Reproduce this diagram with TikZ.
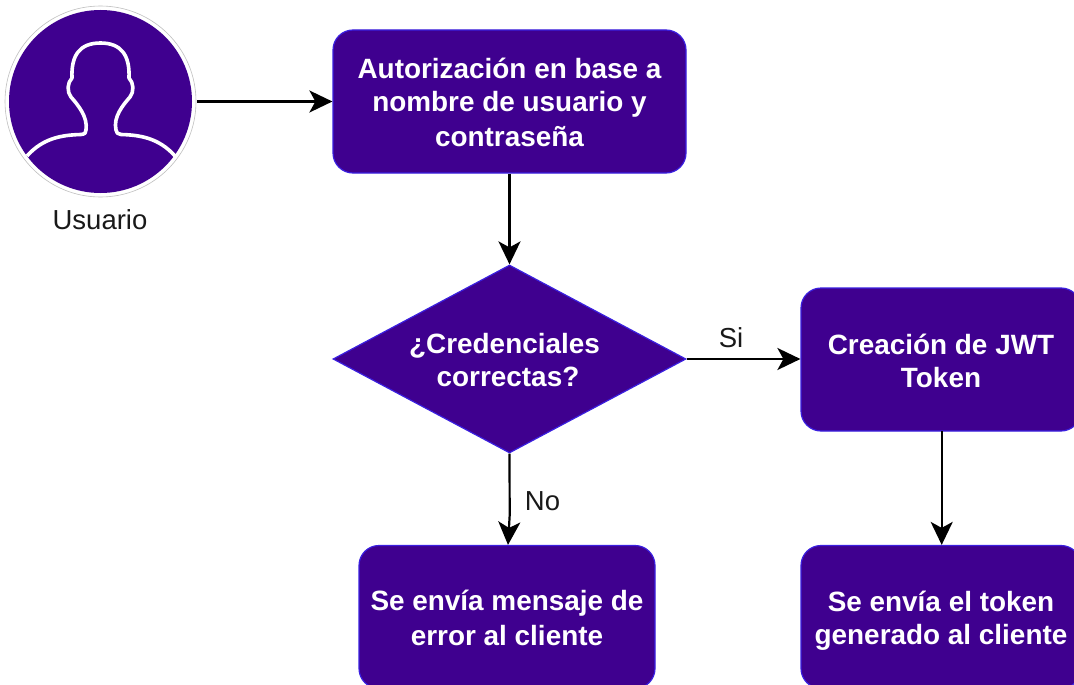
\documentclass[tikz,border=0pt]{standalone}
\usepackage{fontspec}
\setmainfont{Liberation Sans}
\usetikzlibrary{arrows.meta,shapes.geometric}
\definecolor{boxfill}{HTML}{3F008F}
\definecolor{boxline}{HTML}{3A1FE0}
\newcommand{\ls}{\rule[-5.5pt]{0pt}{33pt}}
\tikzset{
  x=1pt,y=-1pt,
  flowbox/.style={draw=boxline,line width=1.2pt,fill=boxfill,rounded corners=20pt},
  decision/.style={diamond,aspect=1.877,draw=boxline,line width=1.2pt,fill=boxfill,inner sep=0pt},
  boxtext/.style={text=white,align=center,font=\fontsize{27.9}{33}\selectfont\bfseries,inner sep=0pt},
  flowarrow/.style={line width=2.2pt,black,-{Stealth[length=23pt,width=22pt,inset=6pt]}},
  plainlabel/.style={font=\fontsize{27.5}{32}\selectfont,text=black!90,inner sep=0pt},
  personline/.style={draw=white,line width=3.6pt,line join=round,line cap=butt}
}
\begin{document}
\begin{tikzpicture}
\clip (0,0) rectangle (1074,685);
\fill[white] (0,0) rectangle (1074,685);
% user icon
\node[circle,draw=black!25,line width=.6pt,minimum size=191pt,inner sep=0pt] (halo) at (100.5,101.5) {};
\node[circle,fill=boxfill,minimum size=183pt,inner sep=0pt] (user) at (100.5,101.5) {};
\draw[personline] (27,156)
  .. controls (43,138) and (62,135) .. (81,134.5)
  .. controls (85,134) and (86,133) .. (86,130)
  .. controls (88,117) and (78,105) .. (71,97)
  .. controls (67,92) and (67,83) .. (72,78)
  .. controls (71,55) and (80,43) .. (100.5,43)
  .. controls (121,43) and (130,55) .. (129,78)
  .. controls (134,83) and (134,92) .. (130,97)
  .. controls (123,105) and (113,117) .. (116,130)
  .. controls (116,133) and (118,134) .. (121,134.5)
  .. controls (140,135) and (159,138) .. (175,156);
\node[plainlabel] (userlabel) at (100,220) {Usuario};
% boxes
\node[flowbox,boxtext,minimum width=353pt,minimum height=143pt] (auth) at (509.5,101.5) {\ls Autorización en base a\\\ls nombre de usuario y\\\ls contraseña};
\node[decision,boxtext,minimum width=353pt,minimum height=188pt] (check) at (509.5,359) {\ls ¿Credenciales\hspace*{10pt}\\\ls correctas?\hspace*{3pt}};
\node[flowbox,boxtext,minimum width=280pt,minimum height=143pt] (jwt) at (941,359.5) {\ls Creación de JWT\\\ls Token};
\node[flowbox,boxtext,minimum width=296pt,minimum height=143pt] (err) at (507,617) {\ls Se envía mensaje de\\\ls error al cliente};
\node[flowbox,boxtext,minimum width=280pt,minimum height=143pt] (send) at (941,617) {\ls Se envía el token\\\ls generado al cliente};
% connectors
\coordinate (userout) at (197,101.5);
\draw[flowarrow] (userout) -- (auth.west |- userout);
\draw[flowarrow] (auth.south) -- (check.north);
\draw[flowarrow] (check.east) -- (jwt.west |- check.east);
\coordinate (jwtout) at (941.7,431);
\draw[flowarrow] (jwtout) -- (send.north -| jwtout);
\coordinate (nobend) at (509.7,515);
\draw[flowarrow] (check.south) -- (nobend) -- (err.north -| 508,0);
\node[plainlabel] (si) at (731,338) {Si};
\node[plainlabel] (no) at (542.5,501.5) {No};
\end{tikzpicture}
\end{document}
